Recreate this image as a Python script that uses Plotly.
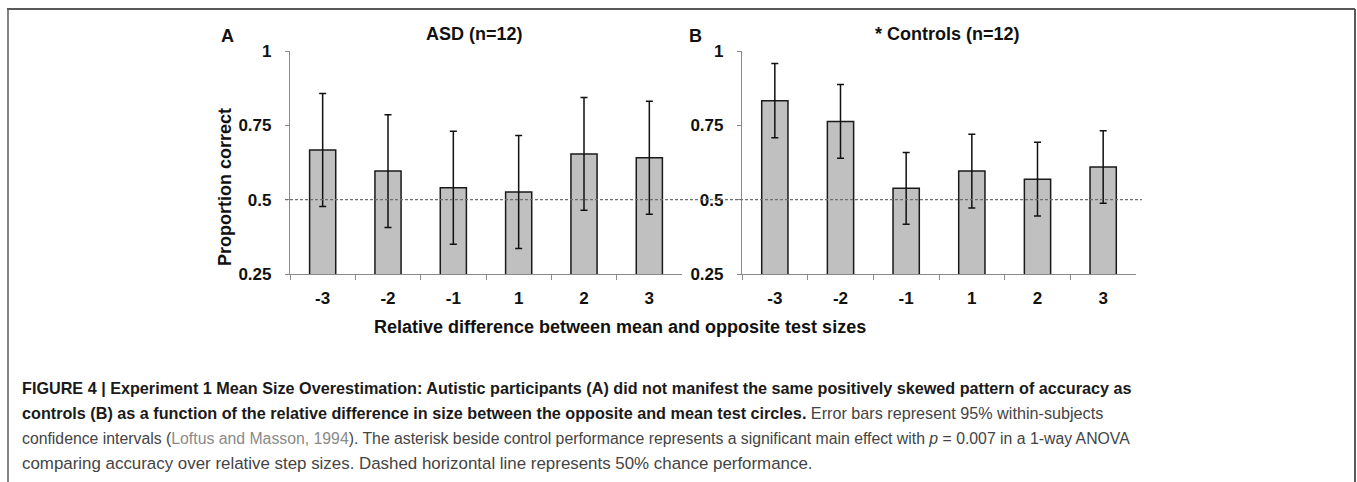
import plotly.graph_objects as go

W, H = 1357, 482

categories = ["-3", "-2", "-1", "1", "2", "3"]
asd_values = [0.667, 0.596, 0.540, 0.526, 0.654, 0.641]
asd_errors = [0.19, 0.19, 0.19, 0.19, 0.19, 0.19]
ctrl_values = [0.833, 0.763, 0.538, 0.596, 0.569, 0.610]
ctrl_errors = [0.125, 0.124, 0.121, 0.124, 0.124, 0.122]
y_ticks = [0.25, 0.5, 0.75, 1]
y_ticklabels = ["0.25", "0.5", "0.75", "1"]
chance_level = 0.5


def px(x):
    return x / W


def py(y):
    return 1 - y / H


bar_style = dict(marker=dict(color="#c0c0c0", line=dict(color="#1a1a1a", width=1.5)),
                 width=0.4, showlegend=False, hoverinfo="skip")

fig = go.Figure()
fig.add_trace(go.Bar(x=categories, y=asd_values, xaxis="x", yaxis="y",
                     error_y=dict(type="data", array=asd_errors, color="#111", thickness=1.5, width=3.5),
                     **bar_style))
fig.add_trace(go.Bar(x=categories, y=ctrl_values, xaxis="x2", yaxis="y2",
                     error_y=dict(type="data", array=ctrl_errors, color="#111", thickness=1.5, width=3.5),
                     **bar_style))

tickfont = dict(family="Arial, Liberation Sans, sans-serif", size=17, color="#111", weight="bold")
ydom = [py(274), py(51)]
xax = dict(type="category", range=[-0.5, 5.5], showline=True, linecolor="#8a8a8a", linewidth=1.2,
           ticks="outside", tickson="boundaries", ticklen=5, tickcolor="#8a8a8a", tickwidth=1.2,
           tickfont=tickfont, ticklabelstandoff=8, showgrid=False, zeroline=False, fixedrange=True,
           automargin=False)
yax = dict(range=[0.25, 1], domain=ydom, tickvals=y_ticks, ticktext=y_ticklabels, showline=True,
           linecolor="#8a8a8a", linewidth=1.2, ticks="outside", ticklen=4, tickcolor="#8a8a8a",
           tickwidth=1.2, tickfont=tickfont, ticklabelstandoff=10, showgrid=False, zeroline=False,
           fixedrange=True, automargin=False)

fig.update_layout(
    template="none",
    width=W, height=H, margin=dict(l=0, r=0, t=0, b=0, pad=0, autoexpand=False),
    paper_bgcolor="white", plot_bgcolor="white",
    xaxis=dict(domain=[px(290), px(682)], anchor="y", **xax),
    yaxis=dict(anchor="x", **yax),
    xaxis2=dict(domain=[px(742), px(1136)], anchor="y2", **xax),
    yaxis2=dict(anchor="x2", **yax),
    bargap=0.6,
)

# dashed chance line spanning both panels
fig.add_shape(type="line", xref="paper", yref="y", x0=px(285), x1=px(1142), y0=chance_level, y1=chance_level,
              line=dict(color="#6e6e6e", width=1.1, dash="3px,2px"))

# frame
frame_col = "#5a5a5a"
fig.add_shape(type="line", xref="paper", yref="paper", x0=px(7), x1=px(1355), y0=py(9), y1=py(9),
              line=dict(color=frame_col, width=2))
fig.add_shape(type="line", xref="paper", yref="paper", x0=px(8), x1=px(8), y0=py(9), y1=0,
              line=dict(color=frame_col, width=1.5))
fig.add_shape(type="line", xref="paper", yref="paper", x0=px(1355), x1=px(1355), y0=py(9), y1=0,
              line=dict(color=frame_col, width=2))

bold = dict(family="Arial, Liberation Sans, sans-serif", color="#111")


def ann(text, x, y, size, xanchor="center", angle=0, font=None):
    f = dict(font or bold)
    f["size"] = size
    fig.add_annotation(text=text, x=px(x), y=py(y), xref="paper", yref="paper", showarrow=False,
                       xanchor=xanchor, yanchor="middle", textangle=angle, font=f)


ann("<b>A</b>", 227, 36, 18)
ann("<b>ASD (n=12)</b>", 474, 34, 18)
ann("<b>B</b>", 695, 36, 18)
ann("<b>* Controls (n=12)</b>", 947, 34, 18)
ann("<b>Proportion correct</b>", 225, 187, 18, angle=-90)
ann("<b>Relative difference between mean and opposite test sizes</b>", 620, 327, 18)

cap_font = dict(family="Liberation Sans, Arial, sans-serif", color="#444")
blk = "<span style='color:#1a1a1a'><b>%s</b></span>"
link = "<span style='color:#8a8a8a'>%s</span>"
caption_lines = [
    blk % "FIGURE 4 | Experiment 1 Mean Size Overestimation: Autistic participants (A) did not manifest the same positively skewed pattern of accuracy as",
    blk % "controls (B) as a function of the relative difference in size between the opposite and mean test circles." + " Error bars represent 95% within-subjects",
    "confidence intervals (" + link % "Loftus and Masson, 1994" + "). The asterisk beside control performance represents a significant main effect with <i>p</i> = 0.007 in a 1-way ANOVA",
    "comparing accuracy over relative step sizes. Dashed horizontal line represents 50% chance performance.",
]
caption_sizes = [16.2, 16.2, 15.8, 16.9]
for i, line in enumerate(caption_lines):
    ann(line, 20, 388 + 25 * i, caption_sizes[i], xanchor="left", font=cap_font)

fig.write_html("out.html", config={"displayModeBar": False},
               post_script="document.body.style.margin='0';")
